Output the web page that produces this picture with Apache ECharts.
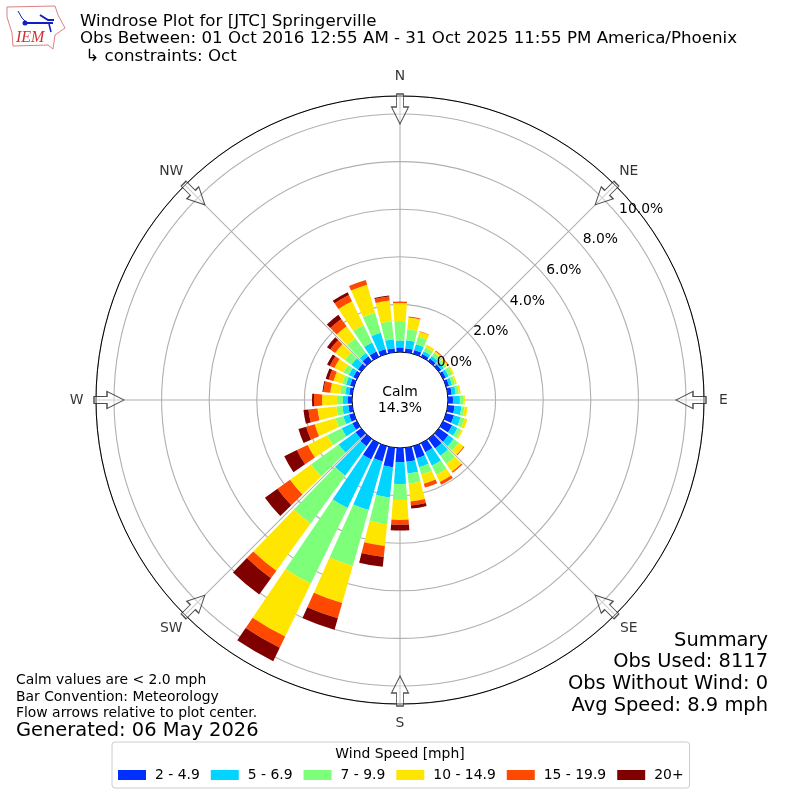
<!DOCTYPE html>
<html><head><meta charset="utf-8">
<style>html,body{margin:0;padding:0;background:#fff}#c{width:800px;height:800px}</style>
<script src="https://cdn.jsdelivr.net/npm/echarts@6/dist/echarts.min.js"></script>
</head><body><div id="c"></div>
<script>
const directions = ['0','10','20','30','40','50','60','70','80','90','100','110','120','130','140','150','160','170','180','190','200','210','220','230','240','250','260','270','280','290','300','310','320','330','340','350'];
const speedBins = ['2 - 4.9','5 - 6.9','7 - 9.9','10 - 14.9','15 - 19.9','20+'];
const binColors = ['#0030ff','#00d4ff','#7dff7a','#ffe600','#ff4800','#800000'];
const s2to5   = [.19,.17,.17,.13,.13,.13,.13,.13,.17,.21,.29,.34,.42,.50,.50,.42,.53,.59,.60,.82,.67,.76,.38,.29,.21,.21,.17,.17,.13,.17,.17,.17,.25,.25,.21,.17];
const s5to7   = [.29,.34,.25,.13,.13,.13,.13,.13,.17,.29,.29,.29,.25,.27,.38,.63,.39,.50,.91,1.28,2.12,2.27,1.53,.88,.50,.25,.25,.21,.17,.17,.21,.34,.17,.42,.71,.38];
const s7to10  = [.82,.46,.34,.17,.17,.13,.17,.13,.13,.15,.13,.17,.17,.27,.42,.42,.32,.42,.67,1.13,2.44,3.53,2.48,1.43,.67,.34,.25,.25,.21,.17,.25,.34,.76,.82,.88,.76];
const s10to15 = [.76,.50,.21,.13,.08,.08,.08,.08,.08,.06,.13,.13,.08,.25,.40,.34,.40,.76,.84,.92,1.62,2.47,2.45,1.09,.92,.91,.80,.63,.42,.38,.42,.50,.63,1.11,1.22,.88];
const s15to20 = [.06,.04,.02,0,.04,.04,0,0,0,0,0,0,0,.04,.06,.13,.17,.17,.21,.46,.67,.52,.39,.65,.50,.37,.38,.34,.29,.21,.21,.25,.38,.29,.21,.17];
const s20plus = [0,0,0,0,0,0,0,0,0,0,0,0,0,0,0,0,0,.13,.24,.42,.50,.63,.84,.65,.59,.34,.21,.08,.04,.13,.13,.17,.21,.13,0,.04];
const seriesValues = [s2to5,s5to7,s7to10,s10to15,s15to20,s20plus];
const compass = ['N','NE','E','SE','S','SW','W','NW'];
const radialTicks = [0,2,4,6,8,10];
const titleLines = ['Windrose Plot for [JTC] Springerville','Obs Between: 01 Oct 2016 12:55 AM - 31 Oct 2025 11:55 PM America/Phoenix',' \u21b3 constraints: Oct'];
const noteLines = ['Calm values are < 2.0 mph','Bar Convention: Meteorology','Flow arrows relative to plot center.'];
const generated = 'Generated: 06 May 2026';
const summaryLines = ['Summary','Obs Used: 8117','Obs Without Wind: 0','Avg Speed: 8.9 mph'];
const calmText = 'Calm\n14.3%';

const FONT = '"DejaVu Sans"';
const rInner = 48, rOuter = 304, pxPerPct = 23.8;
const rMax = (rOuter - rInner) / pxPerPct;
const polarBase = {center:[400,400], radius:[rInner,rOuter]};
const arrowPath = 'path://M8.5 0L17 17L12 17L12 30L5 30L5 17L0 17Z';
const arrowR = (291 - rInner) / pxPerPct;
const compassRingRadius = 323.5;

const txt = (x,y,text,size,align) => ({type:'text',x,y,silent:true,z:20,style:{text,font:size+'px '+FONT,fill:'#000',align:align||'left',verticalAlign:'middle',lineHeight:16}});

const hiddenAngle = (polarIndex,startAngle,interval) => ({polarIndex,type:'value',min:0,max:360,interval,startAngle,
  axisLine:{show:false},axisTick:{show:false},axisLabel:{show:false},splitLine:{show:false}});

const option = {
  animation:false,
  backgroundColor:'#fff',
  textStyle:{fontFamily:FONT},
  polar:[polarBase,polarBase,polarBase,{center:[400,400],radius:[0,compassRingRadius]}],
  angleAxis:[
    {polarIndex:0,type:'category',data:directions,startAngle:95,boundaryGap:true,z:1,
     axisLine:{show:false},axisTick:{show:false},axisLabel:{show:false},splitLine:{show:false}},
    {polarIndex:1,type:'value',min:0,max:360,interval:45,startAngle:90,
     axisLine:{show:true,lineStyle:{color:'#000',width:1}},axisTick:{show:false},axisLabel:{show:false},
     splitLine:{show:true,lineStyle:{color:'#b0b0b0',width:1.1}}},
    hiddenAngle(2,40,90),
    hiddenAngle(3,90,45)
  ],
  radiusAxis:[
    {polarIndex:0,type:'value',min:0,max:rMax,axisLine:{show:false},axisTick:{show:false},axisLabel:{show:false},splitLine:{show:false}},
    {polarIndex:1,type:'value',min:0,max:rMax,interval:2,axisLine:{show:false},axisTick:{show:false},axisLabel:{show:false},
     splitLine:{show:true,lineStyle:{color:'#b0b0b0',width:1.1}}},
    {polarIndex:2,type:'value',min:0,max:rMax,interval:2,z:10,axisLine:{show:false},axisTick:{show:false},splitLine:{show:false},
     axisLabel:{show:true,margin:0,align:'left',verticalAlign:'bottom',padding:[0,0,0,0],color:'#000',fontSize:13.9,fontFamily:FONT,showMaxLabel:false,
       formatter:v=>radialTicks.includes(v)?v.toFixed(1)+'%':''}},
    {polarIndex:3,type:'value',min:0,max:1,axisLine:{show:false},axisTick:{show:false},axisLabel:{show:false},splitLine:{show:false}}
  ],
  legend:{
    data:speedBins,left:112,top:742,orient:'horizontal',icon:'rect',itemWidth:28,itemHeight:10,itemGap:11,
    padding:[26,6,6,6],borderColor:'#ccc',borderWidth:1,borderRadius:3,backgroundColor:'#fff',
    textStyle:{fontSize:13.9,color:'#000',fontFamily:FONT,padding:[0,0,0,4]},selectedMode:false
  },
  series:[
    ...speedBins.map((name,i)=>({
      type:'bar',name,coordinateSystem:'polar',polarIndex:0,stack:'rose',data:seriesValues[i],
      barCategoryGap:'18%',itemStyle:{color:binColors[i]},z:3,silent:true
    })),
    {type:'scatter',coordinateSystem:'polar',polarIndex:1,silent:true,z:5,
     data:compass.map((_,i)=>[arrowR,i*45]),
     symbol:arrowPath,symbolSize:[17,30],symbolRotate:(v)=>-(v[1]+180),
     itemStyle:{color:'rgba(255,255,255,0.5)',borderColor:'#222',borderWidth:1.1}},
    {type:'scatter',coordinateSystem:'polar',polarIndex:3,silent:true,z:6,
     data:compass.map((name,i)=>({name,value:[1,i*45]})),
     symbol:'circle',symbolSize:1,itemStyle:{color:'rgba(0,0,0,0)'},
     label:{show:true,position:'inside',formatter:'{b}',color:'#000',fontSize:13.9,fontFamily:FONT}}
  ],
  graphic:[
    txt(400,400,calmText,13.9,'center'),
    txt(80,21.5,titleLines[0],16.67), txt(80,39,titleLines[1],16.67), txt(80,56.5,titleLines[2],16.67),
    txt(16,680.5,noteLines[0],13.9), txt(16,697,noteLines[1],13.9), txt(16,713,noteLines[2],13.9),
    txt(16,730.5,generated,19.44),
    txt(768,641,summaryLines[0],19.44,'right'), txt(768,662,summaryLines[1],19.44,'right'),
    txt(768,684,summaryLines[2],19.44,'right'), txt(768,706,summaryLines[3],19.44,'right'),
    txt(400,754,'Wind Speed [mph]',13.9,'center'),
    // IEM logo
    {type:'polygon',silent:true,shape:{points:[[7,7],[55,6],[58,15],[65,28],[55,35],[53,49],[48,45],[13,46],[12,33],[7,17]]},style:{fill:'#fff',stroke:'#e08080',lineWidth:1}},
    {type:'polyline',silent:true,shape:{points:[[25,23],[53,23]]},style:{stroke:'#1020c0',lineWidth:2,fill:'none'}},
    {type:'polyline',silent:true,shape:{points:[[40,15],[48,20],[54,20]]},style:{stroke:'#1020c0',lineWidth:2,fill:'none'}},
    {type:'polyline',silent:true,shape:{points:[[18,11],[22,18],[25,21]]},style:{stroke:'#1020c0',lineWidth:1,fill:'none'}},
    {type:'polyline',silent:true,shape:{points:[[49,24],[51,32]]},style:{stroke:'#1020c0',lineWidth:1.5,fill:'none'}},
    {type:'circle',silent:true,shape:{cx:25,cy:23,r:2.5},style:{fill:'#1020c0'}},
    {type:'text',x:16,y:38,silent:true,style:{text:'IEM',font:'italic 16px "Liberation Serif"',fill:'#d03030',verticalAlign:'middle'}}
  ]
};
const chart = echarts.init(document.getElementById('c'),null,{renderer:'canvas'});
chart.setOption(option);
</script></body></html>
